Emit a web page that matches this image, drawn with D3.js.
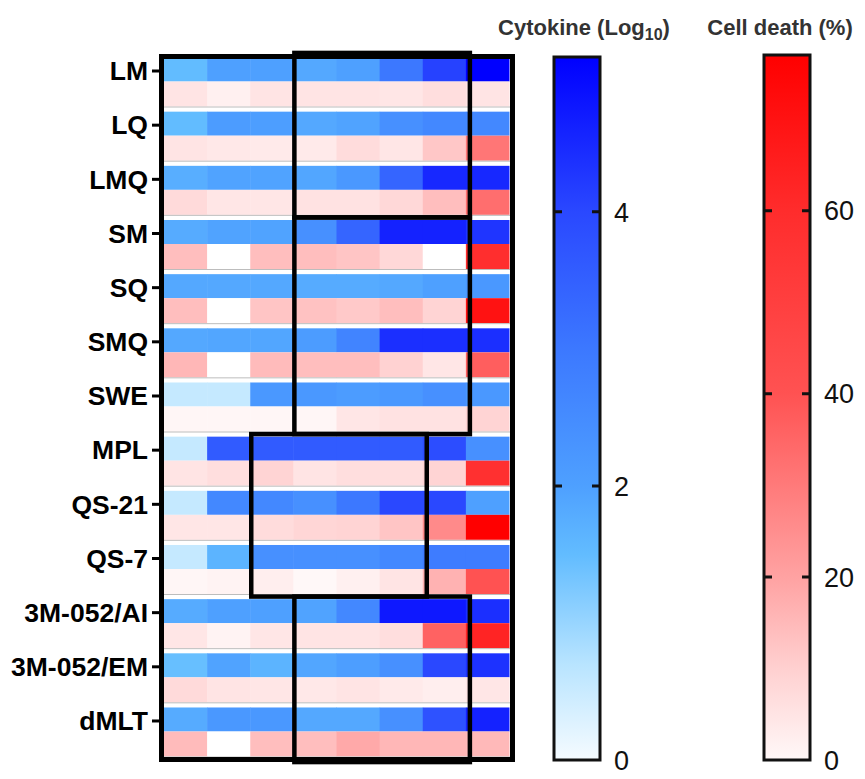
<!DOCTYPE html>
<html>
  <head>
    <meta charset="utf-8" />
    <script src="https://d3js.org/d3.v7.min.js"></script>
    <style>
      body { margin: 0; background: #fff; }
      text { font-family: "Liberation Sans", Arial, sans-serif; }
      .rowlabel { font-weight: bold; font-size: 26.5px; fill: #000; }
      .title { font-weight: bold; font-size: 22px; fill: #333; }
      .ticklabel { font-size: 27px; fill: #111; }
    </style>
  </head>
  <body>
    <svg id="chart" width="865" height="779"></svg>
  <script>

  var adjuvants = ["LM", "LQ", "LMQ", "SM", "SQ", "SMQ", "SWE", "MPL",
    "QS-21", "QS-7", "3M-052/AI", "3M-052/EM", "dMLT"];
  var columns = ["c1", "c2", "c3", "c4", "c5", "c6", "c7", "c8"];

  // cytokine, log10
  var cytokine = [
    [1.5, 2.0, 2.0, 1.85, 2.0, 3.0, 4.1, 5.13],
    [1.5, 2.1, 2.05, 1.85, 1.95, 2.4, 2.6, 2.6],
    [1.75, 1.95, 1.95, 1.9, 2.2, 3.4, 4.5, 4.5],
    [1.8, 1.95, 1.95, 2.4, 3.4, 4.6, 4.6, 4.3],
    [1.85, 1.85, 1.85, 1.8, 1.8, 1.85, 2.0, 2.2],
    [1.85, 1.9, 1.9, 2.1, 2.7, 4.4, 4.4, 4.4],
    [0.55, 0.55, 2.2, 2.2, 2.1, 2.2, 2.4, 2.2],
    [0.55, 3.6, 3.6, 3.6, 3.6, 3.6, 3.9, 2.4],
    [0.55, 2.6, 2.6, 2.4, 3.0, 4.0, 4.0, 2.0],
    [0.55, 1.65, 2.4, 2.4, 2.4, 2.6, 2.9, 2.9],
    [1.8, 2.0, 2.0, 1.95, 2.6, 4.75, 4.75, 4.4],
    [1.45, 1.95, 1.65, 1.9, 2.05, 2.4, 4.0, 4.35],
    [1.8, 2.2, 2.2, 1.85, 1.85, 2.4, 3.8, 4.6]
  ];

  // cell death, %  (null = no value, drawn white)
  var cellDeath = [
    [5, 2, 5, 5, 5, 4.5, 6.5, 5],
    [5, 4, 3.5, 3.5, 7, 4.5, 12, 31],
    [7.5, 4.5, 4.5, 5.5, 5.5, 8, 14, 33],
    [14, null, 14, 14, 12.5, 8, null, 59],
    [14, null, 12.5, 13, 11.5, 14, 9, 70],
    [15.5, null, 14.5, 14, 14, 9.5, 4.5, 37],
    [0.5, 0.5, 0.5, 0.5, 4.5, 5.5, 5.5, 9],
    [5, 6.5, 9, 5, 6.5, 6.5, 9, 58],
    [4.5, 4.5, 7, 8.5, 9, 12.5, 26, 77],
    [0.5, 1.2, 2.5, 0, 2, 5, 16.5, 40],
    [4.5, 1.2, 4.5, 5, 5, 6.5, 36, 63],
    [7.5, 5, 4.5, 4, 5, 3.5, 2.5, 4.5],
    [14.5, null, 14, 14, 18.5, 15.5, 15.5, 15]
  ];

  // highlight boxes: column range, adjuvant range
  var boxes = [
    { c0: 3, c1: 6, r0: 0, r1: 2 },
    { c0: 3, c1: 6, r0: 3, r1: 6 },
    { c0: 2, c1: 5, r0: 7, r1: 9 },
    { c0: 3, c1: 6, r0: 10, r1: 12 }
  ];

  var cytoMax = 5.13, deathMax = 77;
  var cytoTicks = [0, 2, 4];
  var deathTicks = [0, 20, 40, 60];

  var svg = d3.select("#chart");

  var blue = d3.scaleLinear()
    .domain([0, 0.7, 1.5, 2, 3, 4, cytoMax])
    .range(["#f5fbff", "#b8e4ff", "#62bcff", "#4ea0ff", "#3c78ff", "#2a48ff", "#0000ff"])
    .clamp(true);
  var red = d3.scaleLinear()
    .domain([0, 10, 20, 40, 60, deathMax])
    .range(["#fff8f8", "#ffd0d0", "#ffa2a2", "#ff5252", "#ff2c2c", "#ff0000"])
    .clamp(true);

  var x = d3.scaleBand().domain(columns).range([164, 509]);
  var y = d3.scaleBand().domain(adjuvants).range([57.5, 756.5]).paddingInner(0.095);
  var bw = x.bandwidth(), bh = y.bandwidth();
  var blueH = bh * 0.49;
  var gap = y.step() - bh;

  // cells
  var rows = svg.append("g").selectAll("g")
    .data(adjuvants)
    .enter().append("g")
    .attr("transform", function(d) { return "translate(0," + y(d) + ")"; });

  rows.each(function(name, i) {
    var g = d3.select(this);
    g.selectAll(".cyto")
      .data(cytokine[i])
      .enter().append("rect")
      .attr("class", "cyto")
      .attr("x", function(d, j) { return x(columns[j]); })
      .attr("y", 0)
      .attr("width", bw + 0.5)
      .attr("height", blueH)
      .attr("fill", function(d) { return d == null ? "#fff" : blue(d); });
    g.selectAll(".death")
      .data(cellDeath[i])
      .enter().append("rect")
      .attr("class", "death")
      .attr("x", function(d, j) { return x(columns[j]); })
      .attr("y", blueH)
      .attr("width", bw + 0.5)
      .attr("height", bh - blueH)
      .attr("fill", function(d) { return d == null ? "#fff" : red(d); });
    g.append("line")
      .attr("x1", x.range()[0]).attr("x2", x.range()[1] + 2)
      .attr("y1", bh + 0.5).attr("y2", bh + 0.5)
      .attr("stroke", "#bdbdbd").attr("stroke-width", 1);
  });

  // frame
  svg.append("rect")
    .attr("x", x.range()[0] - 2.5)
    .attr("y", y.range()[0] - 1)
    .attr("width", x.range()[1] - x.range()[0] + 6)
    .attr("height", y.range()[1] - y.range()[0] + 4)
    .attr("fill", "none")
    .attr("stroke", "#000")
    .attr("stroke-width", 5);

  // row labels + ticks
  var labels = svg.append("g");
  adjuvants.forEach(function(name) {
    var ty = y(name) + 13.5;
    labels.append("line")
      .attr("x1", 152).attr("x2", 160)
      .attr("y1", ty).attr("y2", ty)
      .attr("stroke", "#000").attr("stroke-width", 3);
    labels.append("text")
      .attr("class", "rowlabel")
      .attr("x", 148)
      .attr("y", ty)
      .attr("dy", "0.35em")
      .attr("text-anchor", "end")
      .text(name);
  });

  // highlight boxes (outer ones poke slightly past the frame)
  var last = adjuvants.length - 1;
  svg.append("g").selectAll("rect")
    .data(boxes)
    .enter().append("rect")
    .attr("x", function(b) { return x(columns[b.c0]) + 1; })
    .attr("y", function(b) { return y(adjuvants[b.r0]) - gap / 2 - (b.r0 === 0 ? 2 : 0); })
    .attr("width", function(b) { return x(columns[b.c1]) + bw + 4 - x(columns[b.c0]) - 1; })
    .attr("height", function(b) {
      return y(adjuvants[b.r1]) + bh + gap - y(adjuvants[b.r0])
        + (b.r0 === 0 ? 2 : 0) + (b.r1 === last ? 3 : 0);
    })
    .attr("fill", "none")
    .attr("stroke", "#000")
    .attr("stroke-width", 4.5);

  // colour bars
  var defs = svg.append("defs");

  function colorBar(id, scale, max, ticks, x0, top, title, sub, titleX) {
    var barW = 46, bottom = 760;
    var v = d3.scaleLinear().domain([0, max]).range([bottom, top]);
    var grad = defs.append("linearGradient")
      .attr("id", id)
      .attr("x1", 0).attr("y1", 1).attr("x2", 0).attr("y2", 0);
    grad.selectAll("stop")
      .data(scale.domain())
      .enter().append("stop")
      .attr("offset", function(d) { return d / max; })
      .attr("stop-color", function(d) { return scale(d); });

    var g = svg.append("g");
    g.append("rect")
      .attr("x", x0).attr("y", top)
      .attr("width", barW).attr("height", bottom - top)
      .attr("fill", "url(#" + id + ")")
      .attr("stroke", "#111")
      .attr("stroke-width", 3);

    g.selectAll(".tk")
      .data(ticks.filter(function(t) { return t > 0; }))
      .enter().append("path")
      .attr("d", function(t) {
        var ty = v(t);
        return "M" + x0 + "," + ty + "h8M" + (x0 + barW) + "," + ty + "h-8";
      })
      .attr("stroke", "#111")
      .attr("stroke-width", 3);

    g.selectAll(".ticklabel")
      .data(ticks)
      .enter().append("text")
      .attr("class", "ticklabel")
      .attr("x", x0 + barW + 14)
      .attr("y", function(t) { return v(t); })
      .attr("dy", "0.36em")
      .text(function(t) { return t; });

    var tt = g.append("text")
      .attr("class", "title")
      .attr("x", titleX)
      .attr("y", 35)
      .attr("text-anchor", "middle");
    tt.append("tspan").text(title);
    if (sub) {
      tt.append("tspan").attr("dy", 5).attr("font-size", "16px").text(sub);
      tt.append("tspan").attr("dy", -5).text(")");
    }
  }

  colorBar("gradBlue", blue, cytoMax, cytoTicks, 554, 57, "Cytokine (Log", "10", 584);
  colorBar("gradRed", red, deathMax, deathTicks, 764, 55, "Cell death (%)", null, 780);

  </script>
  </body>
</html>
